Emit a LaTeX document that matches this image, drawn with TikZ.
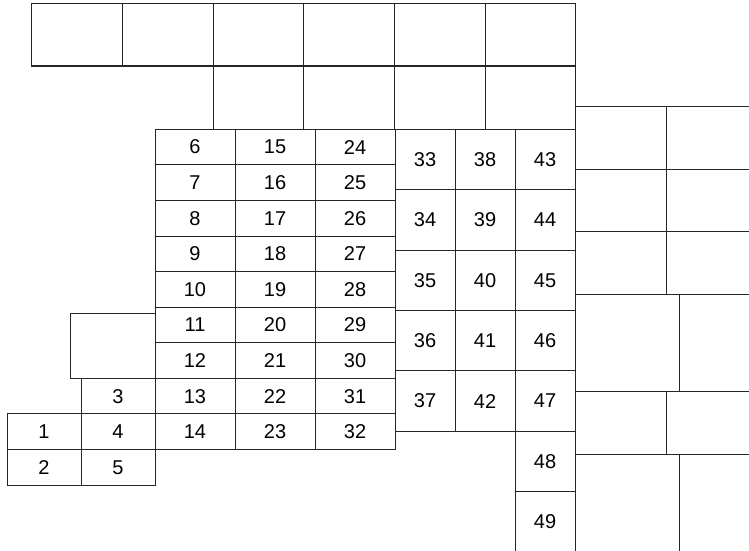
\documentclass[tikz,border=0pt]{standalone}
\usepackage{fontspec}
\setmainfont{Liberation Sans}
\tikzset{
  wall/.style={draw=black!85, line width=1pt},
  lab/.style={inner sep=0pt, font=\fontsize{20}{23}\selectfont, text=black}
}
\newcommand\cellbox[6]{%
  \draw[wall] (#2,#3) rectangle (#4,#5);
  \node[lab] (#1) at ({(#2+#4)/2},{(#3+#5)/2}) {#6};}
\newcommand\blankbox[4]{\draw[wall] (#1,#2) rectangle (#3,#4);}
\begin{document}
\begin{tikzpicture}[x=1pt,y=-1pt]
\useasboundingbox (0,0) rectangle (749,551);
\clip (0,0) rectangle (749,551);
% top rows
\foreach \a/\b in {31/122,122/213,213/303,303/394,394/485,485/575}{\blankbox{\a}{4}{\b}{66}}
\foreach \a/\b in {213/303,303/394,394/485,485/575}{\blankbox{\a}{66}{\b}{129.3}}
% main grid
\foreach \c/\xa/\xb/\base in {0/155/235/6,1/235/315/15,2/315/395/24}{
  \foreach \r in {0,...,8}{
    \pgfmathsetmacro\ya{129.3+35.58*\r}
    \pgfmathsetmacro\yb{129.3+35.58*(\r+1)}
    \pgfmathtruncatemacro\n{\base+\r}
    \cellbox{c\n}{\xa}{\ya}{\xb}{\yb}{\n}
  }
}
% three-column block
\foreach \xa/\xb/\base/\cnt in {395/455/33/4,455/515/38/4,515/575/43/6}{
  \foreach \r in {0,...,\cnt}{
    \pgfmathsetmacro\ya{129.3+60.4*\r}
    \pgfmathsetmacro\yb{129.3+60.4*(\r+1)}
    \pgfmathtruncatemacro\n{\base+\r}
    \cellbox{c\n}{\xa}{\ya}{\xb}{\yb}{\n}
  }
}
% left cells
\blankbox{70}{313}{155}{378.4}
\cellbox{c3}{81}{378.4}{155}{413.9}{3}
\cellbox{c4}{81}{413.9}{155}{449.5}{4}
\cellbox{c5}{81}{449.5}{155}{485.7}{5}
\cellbox{c1}{7}{413.9}{81}{449.5}{1}
\cellbox{c2}{7}{449.5}{81}{485.7}{2}
% right block
\blankbox{575}{106.5}{666}{169}
\blankbox{666}{106.5}{760}{169}
\blankbox{575}{169}{666}{231.7}
\blankbox{666}{169}{760}{231.7}
\blankbox{575}{231.7}{666}{294.3}
\blankbox{666}{231.7}{760}{294.3}
\blankbox{575}{294.3}{679}{391.7}
\blankbox{679}{294.3}{760}{391.7}
\blankbox{575}{391.7}{666}{454.3}
\blankbox{666}{391.7}{760}{454.3}
\blankbox{575}{454.3}{679}{560}
\blankbox{679}{454.3}{760}{560}
\end{tikzpicture}
\end{document}
